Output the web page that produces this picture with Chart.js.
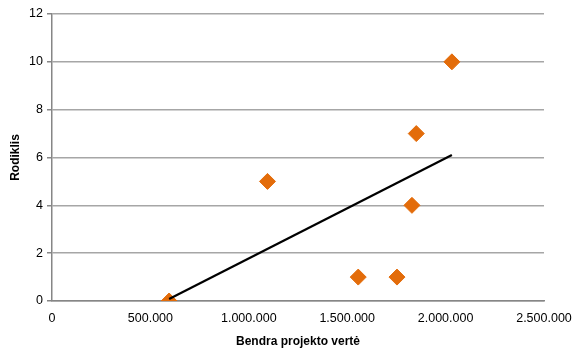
<!DOCTYPE html>
<html>
<head>
<meta charset="utf-8">
<script src="https://cdn.jsdelivr.net/npm/chart.js@4.4.1/dist/chart.umd.min.js"></script>
<style>
  html, body { margin: 0; padding: 0; background: #fff; }
  #wrap { width: 573px; height: 349px; position: relative; }
</style>
</head>
<body>
<div id="wrap"><canvas id="scatterChart"></canvas></div>
<script>
// Data
const projectValues = [595000, 1095000, 1556000, 1753000, 1829000, 1851000, 2032000];
const indicatorValues = [0, 5, 1, 1, 4, 7, 10];
const xTicks = [0, 500000, 1000000, 1500000, 2000000, 2500000];
const yTicks = [0, 2, 4, 6, 8, 10, 12];

const orange = "#E36C0A";
const gridColor = "#A6A6A6";
const axisColor = "#868686";

// Linear trend line (least squares) over the data, from min x to max x
function trendLine(xs, ys) {
    const n = xs.length;
    const mx = xs.reduce((a, b) => a + b, 0) / n;
    const my = ys.reduce((a, b) => a + b, 0) / n;
    let sxy = 0, sxx = 0;
    for (let i = 0; i < n; i++) {
        sxy += (xs[i] - mx) * (ys[i] - my);
        sxx += (xs[i] - mx) * (xs[i] - mx);
    }
    const k = sxy / sxx;
    const b = my - k * mx;
    const x0 = Math.min(...xs), x1 = Math.max(...xs);
    return [{ x: x0, y: k * x0 + b }, { x: x1, y: k * x1 + b }];
}

const points = projectValues.map((v, i) => ({ x: v, y: indicatorValues[i] }));
const fmt = v => String(v).replace(/\B(?=(\d{3})+(?!\d))/g, ".");

Chart.defaults.font.family = "'Liberation Sans', Arial, sans-serif";
Chart.defaults.color = "#000";

new Chart(document.getElementById("scatterChart"), {
    type: "scatter",
    data: {
        datasets: [
            {
                label: "Trend",
                data: trendLine(projectValues, indicatorValues),
                showLine: true,
                borderColor: "#000",
                borderWidth: 2.2,
                pointRadius: 0,
                order: 0
            },
            {
                label: "Rodiklis",
                data: points,
                pointStyle: "rectRot",
                pointRadius: 8,
                pointBackgroundColor: orange,
                pointBorderColor: orange,
                pointBorderWidth: 1,
                order: 1
            }
        ]
    },
    options: {
        responsive: true,
        maintainAspectRatio: false,
        animation: false,
        layout: { padding: { top: 14, right: 29, left: 0, bottom: 0 } },
        scales: {
            x: {
                type: "linear",
                min: 0,
                max: 2500000,
                afterFit: s => { s.height = 48; s.paddingLeft = 0; s.paddingRight = 0; },
                afterBuildTicks: s => { s.ticks = xTicks.map(v => ({ value: v })); },
                ticks: { font: { size: 12.5 }, padding: 5, maxRotation: 0, callback: v => fmt(v) },
                grid: { display: false, drawOnChartArea: false, drawTicks: true, tickLength: 5, tickColor: axisColor },
                border: { color: axisColor, width: 1.5 },
                title: { display: true, text: "Bendra projekto vertė", font: { size: 12, weight: "bold" }, padding: { top: 4, bottom: 0 } }
            },
            y: {
                type: "linear",
                min: 0,
                max: 12,
                afterFit: s => { s.width = 52; s.paddingTop = 0; s.paddingBottom = 0; },
                afterBuildTicks: s => { s.ticks = yTicks.map(v => ({ value: v })); },
                ticks: { font: { size: 12.5 }, padding: 4 },
                grid: { color: gridColor, lineWidth: 1.5, tickLength: 5, tickColor: axisColor },
                border: { color: axisColor, width: 1.5 },
                title: { display: true, text: "Rodiklis", font: { size: 12, weight: "bold" }, padding: { top: 8, bottom: 0 } }
            }
        },
        plugins: {
            legend: { display: false },
            tooltip: { enabled: false }
        }
    }
});
</script>
</body>
</html>
